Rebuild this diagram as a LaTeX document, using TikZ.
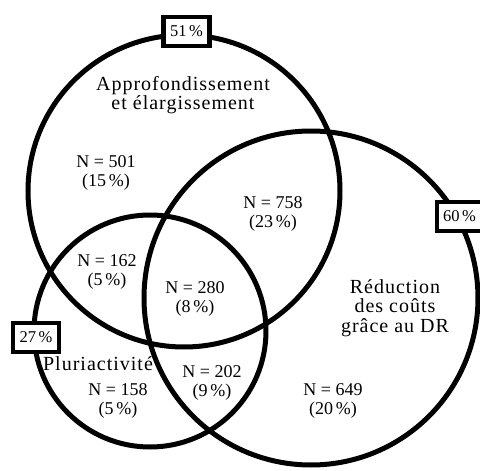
\documentclass[tikz,border=0pt]{standalone}
\usepackage{fontspec}
\setmainfont{Liberation Serif}
\newfontfamily\labelfont[LetterSpace=5]{Liberation Serif}
\begin{document}
\begin{tikzpicture}[x=1pt,y=-1pt,
  ring/.style={draw=black,line width=5pt},
  share/.style={draw=black,fill=white,line width=4.5pt,minimum width=46pt,minimum height=29pt,inner sep=0pt,font=\fontsize{16.5}{17}\selectfont},
  count/.style={align=center,inner sep=0pt,font=\fontsize{18}{19}\selectfont},
  group/.style={align=center,inner sep=0pt,font=\labelfont\fontsize{20}{19.5}\selectfont}]
\useasboundingbox (0,0) rectangle (480,471);
% the three sets
\draw[ring] (184,191) circle[radius=156pt];
\draw[ring] (311,298) circle[radius=167pt];
\draw[ring] (150,331) circle[radius=116pt];
% set names
\node[group] (gA) at (183,95) {Approfondissement\\et élargissement};
\node[group] (gB) at (395,308) {Réduction\\des coûts\\grâce au DR};
\node[group] (gC) at (98,364) {Pluriactivité};
% counts in each region
\node[count] (n501) at (106,173) {N = 501\\(15\,\%)};
\node[count] (n758) at (273,214) {N = 758\\(23\,\%)};
\node[count] (n162) at (107,272) {N = 162\\(5\,\%)};
\node[count] (n280) at (195,299) {N = 280\\(8\,\%)};
\node[count] (n158) at (118,401) {N = 158\\(5\,\%)};
\node[count] (n202) at (212,383) {N = 202\\(9\,\%)};
\node[count] (n649) at (333,401) {N = 649\\(20\,\%)};
% share of each set
\node[share] (pA) at (186.5,31.5) {51\,\%};
\node[share,minimum width=52pt,text width=40pt,align=left] (pB) at (463,216.5) {60\,\%};
\node[share] (pC) at (36,337.5) {27\,\%};
\end{tikzpicture}
\end{document}
